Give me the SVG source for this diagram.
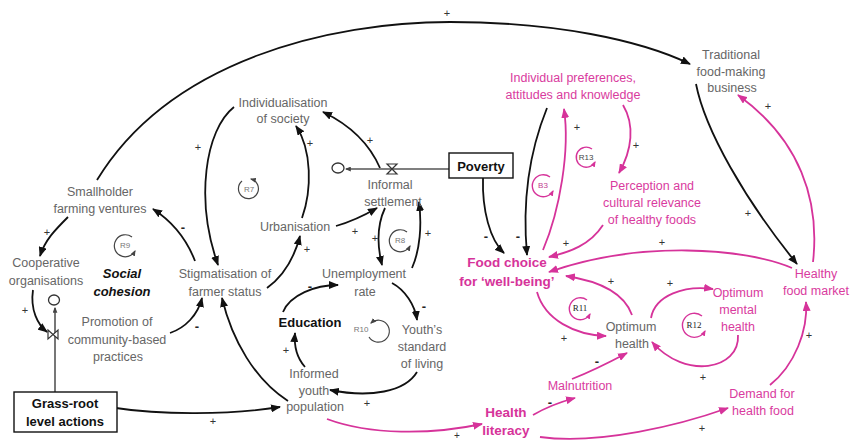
<svg xmlns="http://www.w3.org/2000/svg" width="864" height="441" viewBox="0 0 864 441">
  <defs>
    <marker id="ab" viewBox="0 0 10 8" refX="9" refY="4" markerWidth="10" markerHeight="8" markerUnits="userSpaceOnUse" orient="auto">
      <path d="M0,0 L10,4 L0,8 Z" fill="#111"/>
    </marker>
    <marker id="am" viewBox="0 0 10 8" refX="9" refY="4" markerWidth="10" markerHeight="8" markerUnits="userSpaceOnUse" orient="auto">
      <path d="M0,0 L10,4 L0,8 Z" fill="#d6339a"/>
    </marker>
    <marker id="sb" viewBox="0 0 10 8" refX="8" refY="4" markerWidth="6" markerHeight="5" markerUnits="userSpaceOnUse" orient="auto">
      <path d="M0,0 L10,4 L0,8 Z" fill="#444"/>
    </marker>
    <marker id="sm" viewBox="0 0 10 8" refX="8" refY="4" markerWidth="6" markerHeight="5" markerUnits="userSpaceOnUse" orient="auto">
      <path d="M0,0 L10,4 L0,8 Z" fill="#d6339a"/>
    </marker>
  </defs>
  <style>
    text { font-family: "Liberation Sans", Arial, sans-serif; text-anchor: middle; }
    .n { font-size: 12.5px; fill: #666; }
    .p { font-size: 12.5px; fill: #d93b9e; }
    .b { font-size: 13px; font-weight: bold; fill: #111; }
    .bp { font-size: 13.5px; font-weight: bold; fill: #d6339a; }
    .bi { font-size: 13px; font-weight: bold; font-style: italic; fill: #111; }
    .s { font-size: 11px; fill: #333; }
    .m { font-size: 13px; font-weight: bold; fill: #222; }
    .k { fill: none; stroke: #111; stroke-width: 1.8; marker-end: url(#ab); }
    .g { fill: none; stroke: #d6339a; stroke-width: 1.8; marker-end: url(#am); }
    .loop { fill: none; stroke: #444; stroke-width: 1.2; marker-end: url(#sb); }
    .loopm { fill: none; stroke: #d6339a; stroke-width: 1.4; marker-end: url(#sm); }
    .ll { font-size: 8px; fill: #777; }
    .lls { font-family: "Liberation Serif", serif; font-size: 9px; fill: #222; }
    .box { fill: #fff; stroke: #111; stroke-width: 1.4; }
    .pipe { fill: none; stroke: #555; stroke-width: 1.6; }
  </style>

  <rect width="864" height="441" fill="#fff"/>

  <!-- causal links -->
  <g id="links">
    <!-- black links -->
    <path class="k" d="M97,180 C170,60 330,22 450,22 C555,22 640,40 690,64"/>
    <path class="k" d="M696,84 C705,130 745,200 797,264"/>
    <path class="k" d="M68,217 C55,230 45,240 40,256"/>
    <path class="k" d="M195,261 C185,235 170,220 153,209"/>
    <path class="k" d="M234,107 C205,130 195,200 218,265"/>
    <path class="k" d="M302,218 C312,190 312,150 296,126"/>
    <path class="k" d="M267,288 C285,275 295,255 300,236"/>
    <path class="k" d="M336,226 C350,222 365,215 377,208"/>
    <path class="k" d="M380,168 C370,145 350,125 323,112"/>
    <path class="k" d="M385,208 C377,225 377,245 382,265"/>
    <path class="k" d="M412,268 C420,250 422,225 419,202"/>
    <path class="k" d="M392,283 C405,290 415,305 417,320"/>
    <path class="k" d="M417,372 C405,392 370,398 330,390"/>
    <path class="k" d="M305,367 C297,358 294,345 295,333"/>
    <path class="k" d="M283,312 C290,295 315,285 338,285"/>
    <path class="k" d="M288,401 C255,380 232,340 222,298"/>
    <path class="k" d="M170,333 C185,328 198,315 202,298"/>
    <path class="k" d="M116,408 C160,415 230,415 280,407"/>
    <path class="k" d="M33,290 C30,310 38,325 47,332"/>
    <path class="k" d="M483,178 C482,210 490,240 504,253"/>
    <path class="k" d="M547,108 C530,150 522,200 527,255"/>

    <!-- flow pipes with clouds and valves -->
    <path class="pipe" d="M55,392 L55,308" marker-end="url(#sb)"/>
    <ellipse cx="54" cy="300" rx="5.5" ry="5" fill="#fff" stroke="#333" stroke-width="1.3"/>
    <path d="M48,330 L58,339 L58,330 L48,339 Z" fill="#fff" stroke="#333" stroke-width="1.2"/>
    <path class="pipe" d="M449,169 L346,169" marker-end="url(#sb)"/>
    <ellipse cx="338" cy="168" rx="6" ry="5" fill="#fff" stroke="#333" stroke-width="1.3"/>
    <path d="M387,164 L397,164 L387,174 L397,174 Z" fill="#fff" stroke="#333" stroke-width="1.2"/>

    <!-- magenta links -->
    <path class="g" d="M543,250 C560,210 570,150 564,109"/>
    <path class="g" d="M623,105 C635,125 632,150 619,173"/>
    <path class="g" d="M603,225 C590,245 570,252 549,257"/>
    <path class="g" d="M792,268 C745,248 640,240 549,272"/>
    <path class="g" d="M813,262 C820,200 800,140 738,95"/>
    <path class="g" d="M537,292 C545,320 575,335 606,336"/>
    <path class="g" d="M632,315 C625,295 605,282 566,276"/>
    <path class="g" d="M651,318 C655,295 685,285 713,289"/>
    <path class="g" d="M738,335 C740,370 685,380 652,342"/>
    <path class="g" d="M572,379 C590,372 610,362 627,353"/>
    <path class="g" d="M533,415 C545,408 560,402 575,398"/>
    <path class="g" d="M540,437 C600,445 680,425 728,408"/>
    <path class="g" d="M770,385 C795,365 808,330 806,302"/>
    <path class="g" d="M327,419 C370,435 430,435 482,424"/>

    <!-- polarity signs -->
    <g id="signs" opacity="0.99">
      <text class="s" x="447" y="17">+</text>
      <text class="s" x="748" y="217">+</text>
      <text class="s" x="47" y="236">+</text>
      <text class="m" x="183" y="232">-</text>
      <text class="s" x="198" y="151">+</text>
      <text class="s" x="310" y="147">+</text>
      <text class="s" x="307" y="253">+</text>
      <text class="s" x="355" y="235">+</text>
      <text class="s" x="370" y="144">+</text>
      <text class="s" x="375" y="242">+</text>
      <text class="s" x="428" y="237">+</text>
      <text class="m" x="424" y="311">-</text>
      <text class="s" x="367" y="407">+</text>
      <text class="s" x="286" y="354">+</text>
      <text class="m" x="310" y="291">-</text>
      <text class="m" x="197" y="331">-</text>
      <text class="s" x="213" y="425">+</text>
      <text class="s" x="25" y="314">+</text>
      <text class="m" x="486" y="241">-</text>
      <text class="m" x="518" y="241">-</text>
      <text class="s" x="577" y="131">+</text>
      <text class="s" x="636" y="149">+</text>
      <text class="s" x="566" y="247">+</text>
      <text class="s" x="662" y="246">+</text>
      <text class="s" x="768" y="110">+</text>
      <text class="s" x="564" y="342">+</text>
      <text class="s" x="611" y="285">+</text>
      <text class="s" x="670" y="287">+</text>
      <text class="s" x="703" y="381">+</text>
      <text class="m" x="597" y="366">-</text>
      <text class="m" x="550" y="407">-</text>
      <text class="s" x="702" y="432">+</text>
      <text class="s" x="809" y="339">+</text>
      <text class="s" x="457" y="439" style="font-size:10px">+</text>
    </g>
  </g>

  <!-- loop markers -->
  <g id="loops">
    <g id="loop-r7">
      <path class="loop" d="M242,181 A10,10 0 1 0 251,179"/>
      <text class="ll" x="249" y="192">R7</text>
    </g>
    <g id="loop-r9">
      <path class="loop" d="M132,237 A11,11 0 1 0 135,251"/>
      <text class="ll" x="125" y="248">R9</text>
    </g>
    <g id="loop-r8">
      <path class="loop" d="M407,232 A11,11 0 1 0 410,246"/>
      <text class="ll" x="400" y="243">R8</text>
    </g>
    <g id="loop-r10">
      <path class="loop" d="M369,337 A11,11 0 1 0 371,323"/>
      <text class="ll" x="361" y="332">R10</text>
    </g>
    <g id="loop-b3">
      <path class="loopm" d="M550,177 A11,11 0 1 0 553,191"/>
      <text class="ll" x="543" y="188" style="fill:#c04090">B3</text>
    </g>
    <g id="loop-r13">
      <path class="loopm" d="M592,149 A10,10 0 1 0 595,162"/>
      <text class="ll" x="586" y="160" style="fill:#444">R13</text>
    </g>
    <g id="loop-r11">
      <path class="loopm" d="M587,300 A11,11 0 1 0 590,314"/>
      <text class="lls" x="580" y="311">R11</text>
    </g>
    <g id="loop-r12">
      <path class="loopm" d="M702,316 A12,12 0 1 0 705,331"/>
      <text class="lls" x="694" y="328">R12</text>
    </g>
  </g>

  <!-- variables -->
  <g id="traditional-business">
    <text class="n" x="731" y="59">Traditional</text>
    <text class="n" x="731" y="76">food-making</text>
    <text class="n" x="732" y="92">business</text>
  </g>
  <g id="individual-preferences">
    <text class="p" x="573" y="82">Individual preferences,</text>
    <text class="p" x="573" y="99">attitudes and knowledge</text>
  </g>
  <g id="individualisation">
    <text class="n" x="283" y="107">Individualisation</text>
    <text class="n" x="283" y="123">of society</text>
  </g>
  <g id="poverty">
    <rect class="box" x="449" y="153" width="64" height="25"/>
    <text class="b" x="481" y="170.5">Poverty</text>
  </g>
  <g id="informal-settlement">
    <text class="n" x="390" y="189">Informal</text>
    <text class="n" x="393" y="206">settlement</text>
  </g>
  <g id="smallholder">
    <text class="n" x="100" y="196">Smallholder</text>
    <text class="n" x="100" y="213">farming ventures</text>
  </g>
  <g id="urbanisation">
    <text class="n" x="295" y="231">Urbanisation</text>
  </g>
  <g id="perception">
    <text class="p" x="652" y="190">Perception and</text>
    <text class="p" x="652" y="207">cultural relevance</text>
    <text class="p" x="652" y="224">of healthy foods</text>
  </g>
  <g id="cooperative">
    <text class="n" x="46" y="267">Cooperative</text>
    <text class="n" x="46" y="285">organisations</text>
  </g>
  <g id="social-cohesion">
    <text class="bi" x="122" y="278">Social</text>
    <text class="bi" x="122" y="296">cohesion</text>
  </g>
  <g id="stigmatisation">
    <text class="n" x="225" y="278">Stigmatisation of</text>
    <text class="n" x="225" y="296">farmer status</text>
  </g>
  <g id="unemployment">
    <text class="n" x="364" y="278">Unemployment</text>
    <text class="n" x="365" y="296">rate</text>
  </g>
  <g id="food-choice">
    <text class="bp" x="507" y="267">Food choice</text>
    <text class="bp" x="507" y="286">for ‘well-being’</text>
  </g>
  <g id="healthy-food-market">
    <text class="p" x="816" y="278">Healthy</text>
    <text class="p" x="816" y="295">food market</text>
  </g>
  <g id="promotion">
    <text class="n" x="117" y="326">Promotion of</text>
    <text class="n" x="117" y="344">community-based</text>
    <text class="n" x="118" y="361">practices</text>
  </g>
  <g id="education">
    <text class="b" x="310" y="327">Education</text>
  </g>
  <g id="youth-standard">
    <text class="n" x="422" y="334">Youth’s</text>
    <text class="n" x="422" y="351">standard</text>
    <text class="n" x="422" y="368">of living</text>
  </g>
  <g id="optimum-health">
    <text class="n" x="631" y="331">Optimum</text>
    <text class="n" x="632" y="348">health</text>
  </g>
  <g id="optimum-mental-health">
    <text class="p" x="738" y="297">Optimum</text>
    <text class="p" x="738" y="314">mental</text>
    <text class="p" x="738" y="331">health</text>
  </g>
  <g id="informed-youth">
    <text class="n" x="314" y="378">Informed</text>
    <text class="n" x="314" y="395">youth</text>
    <text class="n" x="315" y="411">population</text>
  </g>
  <g id="malnutrition">
    <text class="p" x="580" y="390">Malnutrition</text>
  </g>
  <g id="demand-health-food">
    <text class="p" x="762" y="398">Demand for</text>
    <text class="p" x="763" y="415">health food</text>
  </g>
  <g id="grass-root">
    <rect class="box" x="14" y="392" width="103" height="40"/>
    <text class="b" x="65" y="408">Grass-root</text>
    <text class="b" x="65" y="426">level actions</text>
  </g>
  <g id="health-literacy">
    <text class="bp" x="506" y="417">Health</text>
    <text class="bp" x="506" y="435">literacy</text>
  </g>
</svg>
